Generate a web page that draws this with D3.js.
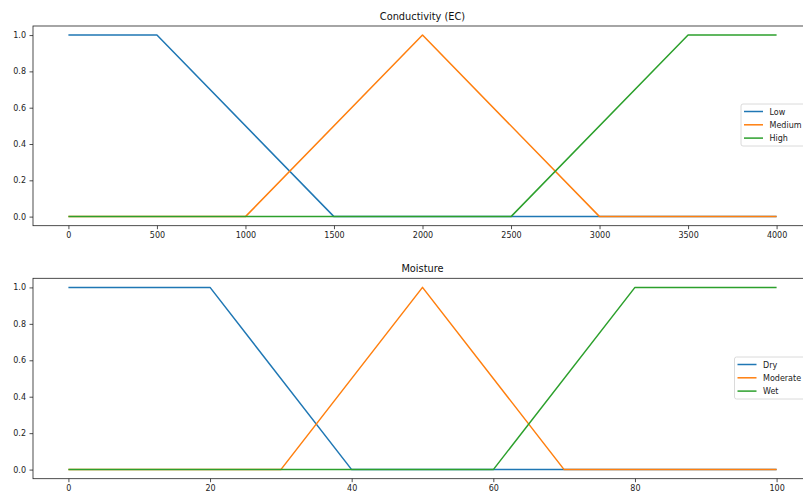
<!DOCTYPE html>
<html>
<head>
<meta charset="utf-8">
<script src="https://cdn.jsdelivr.net/npm/d3@7"></script>
<style>
  html, body { margin: 0; padding: 0; background: #fff; }
  svg { display: block; font-family: "DejaVu Sans", sans-serif; }
</style>
</head>
<body>
<svg id="chart" width="803" height="492"></svg>
<script>
// Fuzzy membership functions: breakpoints [x, membership]
const ecLow    = [[0, 1], [500, 1], [1500, 0], [4000, 0]];
const ecMedium = [[0, 0], [1000, 0], [2000, 1], [3000, 0], [4000, 0]];
const ecHigh   = [[0, 0], [2500, 0], [3500, 1], [4000, 1]];
const ecLabels = ["Low", "Medium", "High"];
const ecTicks  = [0, 500, 1000, 1500, 2000, 2500, 3000, 3500, 4000];

const mDry      = [[0, 1], [20, 1], [40, 0], [100, 0]];
const mModerate = [[0, 0], [30, 0], [50, 1], [70, 0], [100, 0]];
const mWet      = [[0, 0], [60, 0], [80, 1], [100, 1]];
const mLabels   = ["Dry", "Moderate", "Wet"];
const mTicks    = [0, 20, 40, 60, 80, 100];

const yTicks = [0, 0.2, 0.4, 0.6, 0.8, 1.0];
const colors = ["#1f77b4", "#ff7f0e", "#2ca02c"];

const svg = d3.select("#chart");

function panel(cfg) {
  const { top, bottom, left, right, xmax, series, labels, ticks, title, legend } = cfg;
  const pad = xmax * 0.05;
  const x = d3.scaleLinear().domain([-pad, xmax + pad]).range([left, right]);
  const y = d3.scaleLinear().domain([-0.05, 1.05]).range([bottom, top]);
  const g = svg.append("g");

  // curves
  const line = d3.line().x(d => x(d[0])).y(d => y(d[1]));
  series.forEach((s, i) => {
    g.append("path").datum(s)
      .attr("d", line)
      .attr("fill", "none")
      .attr("stroke", colors[i])
      .attr("stroke-width", 1.5)
      .attr("stroke-linejoin", "round");
  });

  // axes
  const xAxis = d3.axisBottom(x).tickValues(ticks).tickSize(3.5).tickPadding(3.5)
    .tickFormat(d3.format("d"));
  const yAxis = d3.axisLeft(y).tickValues(yTicks).tickSize(3.5).tickPadding(3.5)
    .tickFormat(d3.format(".1f"));
  const gx = g.append("g").attr("transform", `translate(0,${bottom})`).call(xAxis);
  const gy = g.append("g").attr("transform", `translate(${left},0)`).call(yAxis);
  [gx, gy].forEach(a => {
    a.select(".domain").remove();
    a.selectAll("line").attr("stroke", "#222").attr("stroke-width", 0.8);
    a.selectAll("text").attr("fill", "#222").style("font-size", "8px")
      .style("font-family", "DejaVu Sans, sans-serif");
  });

  // spines
  g.append("rect")
    .attr("x", left).attr("y", top)
    .attr("width", right - left).attr("height", bottom - top)
    .attr("fill", "none").attr("stroke", "#222").attr("stroke-width", 0.8);

  // title
  g.append("text")
    .attr("x", (left + right) / 2).attr("y", top - 6)
    .attr("text-anchor", "middle")
    .attr("fill", "#111")
    .style("font-size", "9.8px")
    .text(title);

  // legend
  const lg = g.append("g").attr("transform", `translate(${legend.x},${legend.y})`);
  lg.append("rect")
    .attr("x", 0).attr("y", 0)
    .attr("width", 90).attr("height", 42)
    .attr("rx", 2)
    .attr("fill", "rgba(255,255,255,0.8)")
    .attr("stroke", "#d0d0d0").attr("stroke-width", 0.8);
  labels.forEach((lab, i) => {
    const cy = 7.5 + i * 13.3;
    lg.append("line")
      .attr("x1", 3).attr("x2", 22)
      .attr("y1", cy).attr("y2", cy)
      .attr("stroke", colors[i]).attr("stroke-width", 1.5);
    lg.append("text")
      .attr("x", 28.5).attr("y", cy + 3)
      .attr("fill", "#222")
      .style("font-size", "8px")
      .text(lab);
  });
}

panel({
  top: 26, bottom: 225.7, left: 33, right: 812, xmax: 4000,
  series: [ecLow, ecMedium, ecHigh], labels: ecLabels, ticks: ecTicks,
  title: "Conductivity (EC)", legend: { x: 741, y: 104 }
});

panel({
  top: 278.3, bottom: 478.7, left: 33, right: 812, xmax: 100,
  series: [mDry, mModerate, mWet], labels: mLabels, ticks: mTicks,
  title: "Moisture", legend: { x: 734.5, y: 357 }
});
</script>
</body>
</html>
